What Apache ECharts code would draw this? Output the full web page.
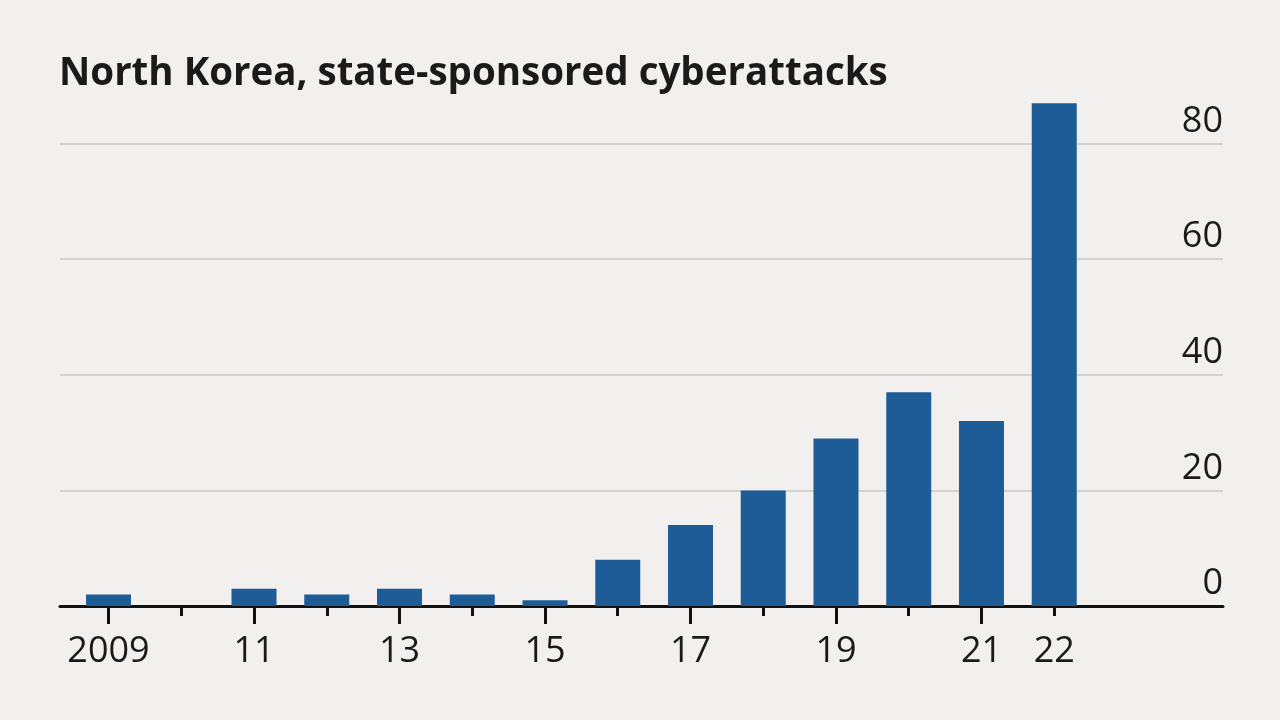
<!DOCTYPE html>
<html>
<head>
    <meta charset="utf-8">
    <title>North Korea, state-sponsored cyberattacks</title>
    <script src="https://cdn.jsdelivr.net/npm/echarts@6/dist/echarts.min.js"></script>
    <style>
        html, body { margin: 0; padding: 0; background: #f1f0ee; }
        #chart { width: 1280px; height: 720px; }
    </style>
</head>
<body>
    <div id="chart"></div>
    <script>
        // data
        const years = [2009, 2010, 2011, 2012, 2013, 2014, 2015, 2016, 2017, 2018, 2019, 2020, 2021, 2022];
        const attacks = [2, 0, 3, 2, 3, 2, 1, 8, 14, 20, 29, 37, 32, 87];
        const longTickYears = [2009, 2011, 2013, 2015, 2017, 2019, 2021];
        const shortTickYears = [2010, 2012, 2014, 2016, 2018, 2020, 2022];
        const yearLabels = [2009, 2011, 2013, 2015, 2017, 2019, 2021, 2022];
        const yTicks = [0, 20, 40, 60, 80];

        const labelFont = 'Open Sans';
        const xMin = 2008.333, xMax = 2024.32;

        function yearText(v) {
            return v === 2009 ? '2009' : String(v).slice(2);
        }

        const chart = echarts.init(document.getElementById('chart'));
        chart.setOption({
            backgroundColor: '#f1f0ee',
            animation: false,
            title: {
                text: 'North Korea, state-sponsored cyberattacks',
                left: 54,
                top: 50,
                textStyle: {
                    fontFamily: labelFont,
                    fontWeight: 'bold',
                    fontSize: 38.5,
                    color: '#1a1a1a'
                }
            },
            grid: { left: 60, right: 57, top: 28, bottom: 114 },
            xAxis: [
                {
                    type: 'value',
                    min: xMin,
                    max: xMax,
                    axisLine: { show: true, onZero: false, lineStyle: { color: '#111', width: 3 } },
                    axisTick: { show: true, customValues: longTickYears, length: 18, lineStyle: { color: '#111', width: 3 } },
                    axisLabel: {
                        customValues: yearLabels,
                        formatter: yearText,
                        fontFamily: labelFont,
                        fontSize: 36,
                        color: '#1a1a1a',
                        margin: 28
                    },
                    splitLine: { show: false }
                },
                {
                    type: 'value',
                    min: xMin,
                    max: xMax,
                    position: 'bottom',
                    axisLine: { show: false },
                    axisTick: { show: true, customValues: shortTickYears, length: 10, lineStyle: { color: '#111', width: 3 } },
                    axisLabel: { show: false },
                    splitLine: { show: false }
                }
            ],
            yAxis: {
                type: 'value',
                position: 'right',
                min: 0,
                max: 100,
                interval: 20,
                axisLine: { show: false },
                axisTick: { show: false },
                axisLabel: {
                    inside: true,
                    margin: 0,
                    showMaxLabel: false,
                    verticalAlign: 'bottom',
                    fontFamily: labelFont,
                    fontSize: 36,
                    lineHeight: 44,
                    color: '#1a1a1a',
                    formatter: v => (yTicks.includes(v) ? String(v) : '')
                },
                splitLine: {
                    show: true,
                    showMaxLine: false,
                    showMinLine: false,
                    lineStyle: { color: '#d2d2d0', width: 2 }
                }
            },
            series: [
                {
                    type: 'bar',
                    xAxisIndex: 0,
                    barWidth: 45,
                    itemStyle: { color: '#1e5c97' },
                    data: years.map((y, i) => [y, attacks[i]])
                }
            ]
        });
    </script>
</body>
</html>
